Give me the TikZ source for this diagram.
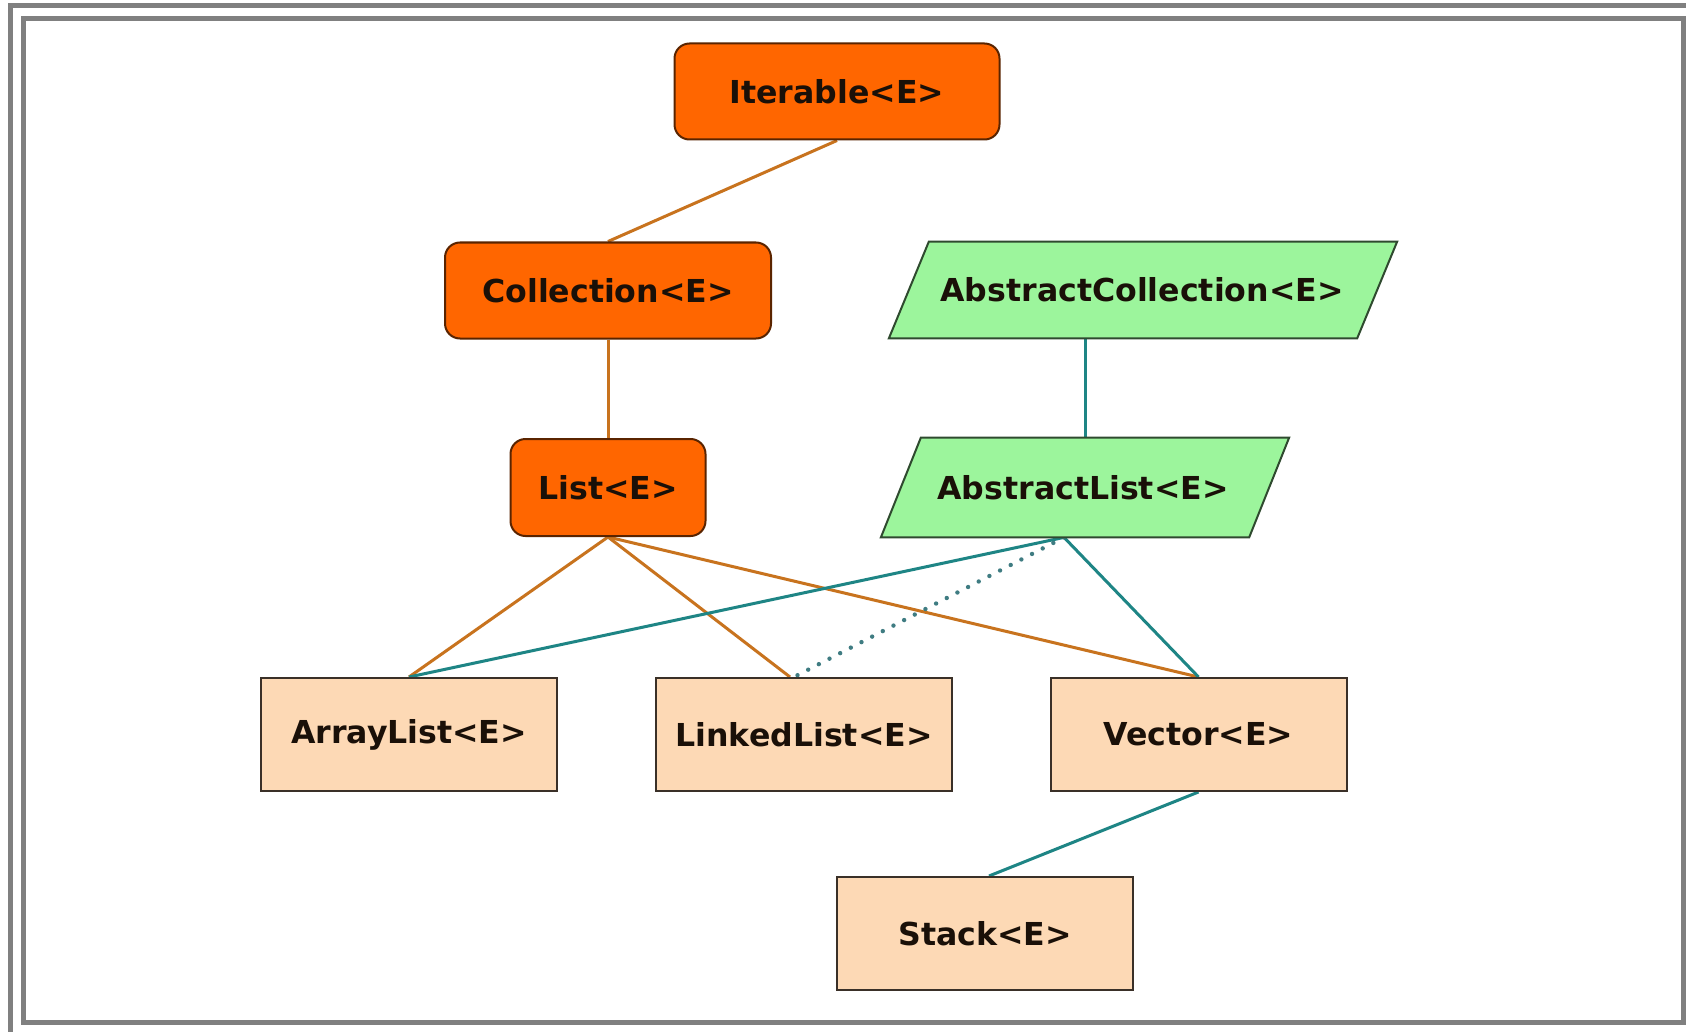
\documentclass[tikz,border=0pt]{standalone}
\usepackage{fontspec}
\setmainfont{DejaVu Sans}
\usetikzlibrary{calc,backgrounds}
\definecolor{iforange}{HTML}{FF6600}
\definecolor{ifborder}{HTML}{5A2400}
\definecolor{absgreen}{HTML}{9CF59C}
\definecolor{absborder}{HTML}{2F4A2F}
\definecolor{classpeach}{HTML}{FDD9B5}
\definecolor{classborder}{HTML}{3A3028}
\definecolor{linkorange}{HTML}{C8731E}
\definecolor{linkteal}{HTML}{1E8585}
\definecolor{dotteal}{HTML}{3F7C82}
\definecolor{framegray}{HTML}{808080}
\definecolor{labeltext}{HTML}{1A1008}
\begin{document}
\begin{tikzpicture}[x=0.5pt,y=-0.5pt,
  lbl/.style={font=\fontsize{15.8}{19}\bfseries\selectfont, text=labeltext, inner sep=0pt},
  ifbox/.style={lbl, draw=ifborder, fill=iforange, rounded corners=7.5pt, line width=1pt, minimum height=48pt},
  absbox/.style={lbl, minimum height=48pt},
  absshape/.style={draw=absborder, fill=absgreen, line width=1pt, line join=miter},
  classbox/.style={lbl, draw=classborder, fill=classpeach, line width=1pt, minimum width=148pt, minimum height=56.5pt},
  orangelink/.style={draw=linkorange, line width=1.5pt},
  teallink/.style={draw=linkteal, line width=1.5pt},
  dotlink/.style={draw=dotteal, line width=2.2pt, line cap=round, dash pattern=on 0pt off 6pt},
  framestroke/.style={draw=framegray, line width=2.5pt}
]
\useasboundingbox (0,0) rectangle (1690,1032);

% nodes
\node[ifbox, minimum width=162.5pt] (iter) at (837,91.5) {Iterable<E>};
\node[ifbox, minimum width=163pt] (coll) at (608,290.5) {Collection<E>};
\node[ifbox, minimum width=97.5pt, minimum height=48.5pt] (list) at (608,487.5) {List<E>};

\node[absbox, minimum width=233.75pt] (ac) at (1143,290) {};
\node[absbox, minimum width=183.75pt, minimum height=49.5pt] (al) at (1085,487.5) {};

\node[classbox] (arr) at (409,734.5) {ArrayList<E>};
\node[classbox] (lnk) at (804,734.5) {LinkedList<E>};
\node[classbox] (vec) at (1198.5,734.5) {Vector<E>};
\node[classbox] (stk) at (985,933.5) {Stack<E>};

\coordinate (albot) at ($(al.south)+(-21,0)$);
\coordinate (lnkorange) at ($(lnk.north)+(-14,0)$);
\coordinate (lnkdot) at ($(lnk.north)+(-10,0)$);
\coordinate (stktop) at ($(stk.north)+(4,0)$);

\begin{scope}[on background layer]
  \fill[white] (0,0) rectangle (1690,1032);
  \draw[framestroke] (10,1032) -- (10,5.5) -- (1686,5.5);
  \draw[framestroke] (23,18.5) rectangle (1683.5,1022);
  % links
  \draw[orangelink] (iter.south) -- (coll.north);
  \draw[orangelink] (coll.south) -- (list.north);
  \draw[orangelink] (list.south) -- (arr.north);
  \draw[orangelink] (list.south) -- (lnkorange);
  \draw[orangelink] (list.south) -- (vec.north);
  \draw[teallink] (al.north) -- (al.north |- ac.south);
  \draw[teallink] (albot) -- (arr.north);
  \draw[teallink] (albot) -- (vec.north);
  \draw[dotlink] (albot) -- (lnkdot);
  \draw[teallink] (vec.south) -- (stktop);
  % abstract class parallelograms
  \draw[absshape] ($(ac.south west)+(-20,0)$) -- ($(ac.north west)+(20,0)$)
     -- ($(ac.north east)+(20,0)$) -- ($(ac.south east)+(-20,0)$) -- cycle;
  \draw[absshape] ($(al.south west)+(-20,0)$) -- ($(al.north west)+(20,0)$)
     -- ($(al.north east)+(20,0)$) -- ($(al.south east)+(-20,0)$) -- cycle;
\end{scope}

\node[lbl] (actext) at (1142,290) {AbstractCollection<E>};
\node[lbl] (altext) at (1083,487.5) {AbstractList<E>};
\end{tikzpicture}
\end{document}
